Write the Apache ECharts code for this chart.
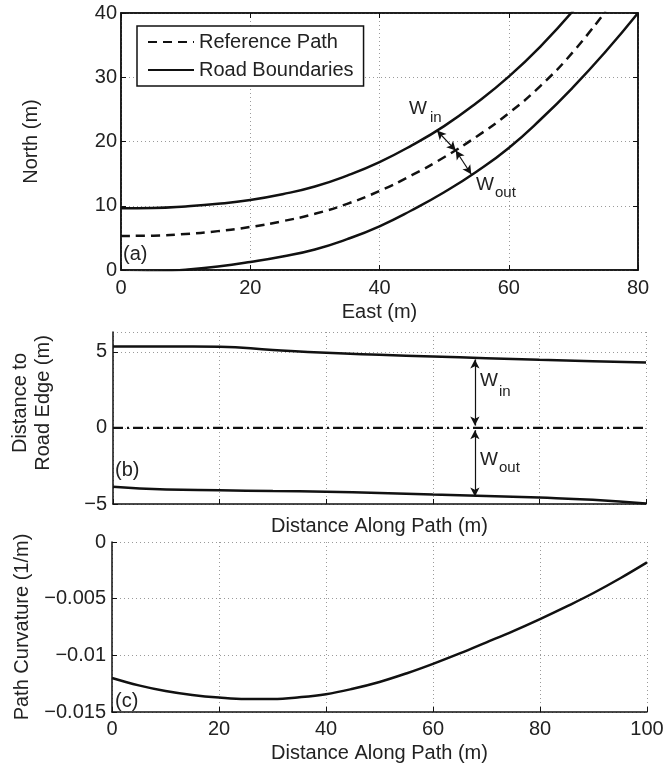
<!DOCTYPE html>
<html>
<head>
<meta charset="utf-8">
<script src="https://cdn.jsdelivr.net/npm/echarts@6/dist/echarts.min.js"></script>
<style>html,body{margin:0;padding:0;background:#fff}#c{width:668px;height:769px}</style>
</head>
<body>
<div id="c"></div>
<script>
// ---- Panel (a): East / North (m)
const eastInner = [0, 5, 10, 15, 20, 25, 30, 35, 40, 45, 50, 55, 60, 65, 70];
const northInner = [9.6, 9.65, 9.9, 10.3, 10.9, 11.8, 13.0, 14.7, 16.8, 19.4, 22.4, 26.0, 30.1, 34.9, 40.4];
const eastRef = [0, 5, 10, 15, 20, 25, 30, 35, 40, 45, 50, 55, 60, 65, 70, 75];
const northRef = [5.3, 5.35, 5.6, 6.05, 6.7, 7.6, 8.75, 10.3, 12.3, 14.75, 17.55, 20.75, 24.4, 28.75, 34.0, 40.3];
const eastOuter = [0, 5, 10, 15, 20, 25, 30, 35, 40, 45, 50, 55, 60, 65, 70, 75, 80];
const northOuter = [-0.5, -0.3, 0.05, 0.55, 1.25, 2.1, 3.2, 4.8, 6.8, 9.3, 12.1, 15.3, 19.0, 23.5, 28.5, 34.0, 40.0];
// W_in / W_out arrows in (a): [refPoint, innerPoint, outerPoint]
const arrowA = [[51.8, 18.6], [48.9, 21.7], [54.2, 14.9]];

// ---- Panel (b): distance to road edge
const distB = [0, 10, 20, 30, 40, 50, 60, 70, 80, 90, 100];
const edgeIn = [5.35, 5.35, 5.33, 5.12, 4.93, 4.8, 4.69, 4.58, 4.47, 4.38, 4.3];
const edgeOut = [-3.86, -4.05, -4.1, -4.15, -4.19, -4.27, -4.38, -4.48, -4.58, -4.72, -4.96];
const centerLine = [0, 0, 0, 0, 0, 0, 0, 0, 0, 0, 0];
// arrows in (b): x, in-end, out-end
const arrowB = [67.9, 4.5, -4.5];

// ---- Panel (c): path curvature
const distC = [0, 5, 10, 15, 20, 25, 30, 35, 40, 45, 50, 55, 60, 65, 70, 75, 80, 85, 90, 95, 100];
const curvature = [-0.0120, -0.01265, -0.01315, -0.01350, -0.01373, -0.01386, -0.01385, -0.01370, -0.01343, -0.01295, -0.01235, -0.01160, -0.01075, -0.00983, -0.00885, -0.00786, -0.00680, -0.00568, -0.00450, -0.00320, -0.00180];

// tick settings
const ticksA_x = [0, 80, 20];
const ticksA_y = [0, 40, 10];
const ticksB_x = [0, 100, 20];
const ticksB_y = [-5, 6.3, 5];
const ticksC_y = [-0.015, 0, 0.005];

const FONT = 'Liberation Sans';
const INK = '#111';
const TXT = '#222';
const zip = (xs, ys) => xs.map((x, i) => [x, ys[i]]);
const minus = v => String(v).replace('-', '\u2212');

const gridLine = {show: true, lineStyle: {color: '#9a9a9a', type: [1, 3], width: 1}};
const axLine = {show: true, onZero: false, lineStyle: {color: INK, width: 1.5}};
const tick = {show: true, inside: true, length: 5, lineStyle: {color: INK, width: 1}};
const lbl = (m) => ({fontFamily: FONT, fontSize: 20, color: TXT, margin: m, formatter: minus});
const nameStyle = {fontFamily: FONT, fontSize: 20, color: TXT};

const chart = echarts.init(document.getElementById('c'), null, {renderer: 'canvas'});

const txt = (x, y, t, size) => ({type: 'text', x: x, y: y, z: 100,
  style: {text: t, fontFamily: FONT, fontSize: size, fill: TXT, align: 'left', verticalAlign: 'middle'}});

chart.setOption({
  animation: false,
  backgroundColor: '#fff',
  grid: [
    {left: 121, top: 13, width: 517, height: 257, show: true, borderColor: INK, borderWidth: 1.5, backgroundColor: 'transparent'},
    {left: 113, top: 332, width: 533, height: 172},
    {left: 112, top: 542, width: 535, height: 170}
  ],
  xAxis: [
    {type: 'value', gridIndex: 0, min: ticksA_x[0], max: ticksA_x[1], interval: ticksA_x[2],
     name: 'East (m)', nameLocation: 'middle', nameGap: 32, nameTextStyle: nameStyle,
     axisLine: axLine, axisTick: tick, axisLabel: lbl(8), splitLine: gridLine},
    {type: 'value', gridIndex: 0, position: 'top', min: ticksA_x[0], max: ticksA_x[1], interval: ticksA_x[2],
     axisLine: axLine, axisTick: tick, axisLabel: {show: false}, splitLine: {show: false}},
    {type: 'value', gridIndex: 1, min: ticksB_x[0], max: ticksB_x[1], interval: ticksB_x[2],
     name: 'Distance Along Path (m)', nameLocation: 'middle', nameGap: 12, nameTextStyle: nameStyle,
     axisLine: axLine, axisTick: tick, axisLabel: {show: false}, splitLine: gridLine},
    {type: 'value', gridIndex: 2, min: ticksB_x[0], max: ticksB_x[1], interval: ticksB_x[2],
     name: 'Distance Along Path (m)', nameLocation: 'middle', nameGap: 31, nameTextStyle: nameStyle,
     axisLine: axLine, axisTick: tick, axisLabel: lbl(7), splitLine: gridLine}
  ],
  yAxis: [
    {type: 'value', gridIndex: 0, min: ticksA_y[0], max: ticksA_y[1], interval: ticksA_y[2],
     name: 'North (m)', nameLocation: 'middle', nameGap: 80, nameTextStyle: nameStyle,
     axisLine: axLine, axisTick: tick, axisLabel: lbl(4), splitLine: gridLine},
    {type: 'value', gridIndex: 0, position: 'right', min: ticksA_y[0], max: ticksA_y[1], interval: ticksA_y[2],
     axisLine: axLine, axisTick: tick, axisLabel: {show: false}, splitLine: {show: false}},
    {type: 'value', gridIndex: 1, min: ticksB_y[0], max: ticksB_y[1], interval: ticksB_y[2],
     name: 'Distance to\nRoad Edge (m)', nameLocation: 'middle', nameGap: 58,
     nameTextStyle: Object.assign({lineHeight: 23, padding: [0, 0, 0, 30]}, nameStyle),
     axisLine: axLine, axisTick: tick, axisLabel: lbl(6), splitLine: gridLine},
    {type: 'value', gridIndex: 2, min: ticksC_y[0], max: ticksC_y[1], interval: ticksC_y[2],
     name: 'Path Curvature (1/m)', nameLocation: 'middle', nameGap: 80, nameTextStyle: nameStyle,
     axisLine: axLine, axisTick: tick, axisLabel: lbl(6), splitLine: gridLine}
  ],
  legend: {
    data: ['Reference Path', 'Road Boundaries'],
    orient: 'vertical', left: 137, top: 26,
    backgroundColor: '#fff', borderColor: INK, borderWidth: 1.5, borderRadius: 0,
    padding: [6, 10, 6, 10], itemWidth: 46, itemHeight: 14, itemGap: 8,
    selectedMode: false,
    itemStyle: {opacity: 0},
    textStyle: {fontFamily: FONT, fontSize: 20, color: TXT}
  },
  series: [
    {name: 'Reference Path', type: 'line', xAxisIndex: 0, yAxisIndex: 0, smooth: true, symbol: 'none',
     lineStyle: {color: INK, width: 2.5, type: [9, 6]}, itemStyle: {color: INK},
     data: zip(eastRef, northRef),
     markLine: {silent: true, symbol: ['arrow', 'arrow'], symbolSize: [7, 9], label: {show: false},
       lineStyle: {color: INK, width: 1.2, type: 'solid'},
       data: [[{coord: arrowA[0]}, {coord: arrowA[1]}], [{coord: arrowA[0]}, {coord: arrowA[2]}]]}},
    {name: 'Road Boundaries', type: 'line', xAxisIndex: 0, yAxisIndex: 0, smooth: true, symbol: 'none',
     lineStyle: {color: INK, width: 2.5}, itemStyle: {color: INK}, data: zip(eastInner, northInner)},
    {name: 'Road Boundaries', type: 'line', xAxisIndex: 0, yAxisIndex: 0, smooth: true, symbol: 'none',
     lineStyle: {color: INK, width: 2.5}, itemStyle: {color: INK}, data: zip(eastOuter, northOuter)},
    {name: 'Inner Edge', type: 'line', xAxisIndex: 2, yAxisIndex: 2, smooth: true, symbol: 'none',
     lineStyle: {color: INK, width: 2.5}, data: zip(distB, edgeIn)},
    {name: 'Outer Edge', type: 'line', xAxisIndex: 2, yAxisIndex: 2, smooth: true, symbol: 'none',
     lineStyle: {color: INK, width: 2.5}, data: zip(distB, edgeOut)},
    {name: 'Center', type: 'line', xAxisIndex: 2, yAxisIndex: 2, symbol: 'none',
     lineStyle: {color: INK, width: 2.2, type: [10, 4, 2, 4]}, data: zip(distB, centerLine),
     markLine: {silent: true, symbol: ['arrow', 'arrow'], symbolSize: [7, 9], label: {show: false},
       lineStyle: {color: INK, width: 1.2, type: 'solid'},
       data: [[{coord: [arrowB[0], 0.15]}, {coord: [arrowB[0], arrowB[1]]}],
              [{coord: [arrowB[0], -0.15]}, {coord: [arrowB[0], arrowB[2]]}]]}},
    {name: 'Curvature', type: 'line', xAxisIndex: 3, yAxisIndex: 3, smooth: 0.4, symbol: 'none',
     lineStyle: {color: INK, width: 2.5}, data: zip(distC, curvature)}
  ],
  graphic: [
    txt(123, 254, '(a)', 20),
    txt(115, 470, '(b)', 20),
    txt(115, 701, '(c)', 20),
    txt(409, 109, 'W', 19), txt(430, 118, 'in', 15),
    txt(476, 185, 'W', 19), txt(495, 193, 'out', 15),
    txt(480, 381, 'W', 19), txt(499, 392, 'in', 15),
    txt(480, 460, 'W', 19), txt(499, 468, 'out', 15)
  ]
});
</script>
</body>
</html>
